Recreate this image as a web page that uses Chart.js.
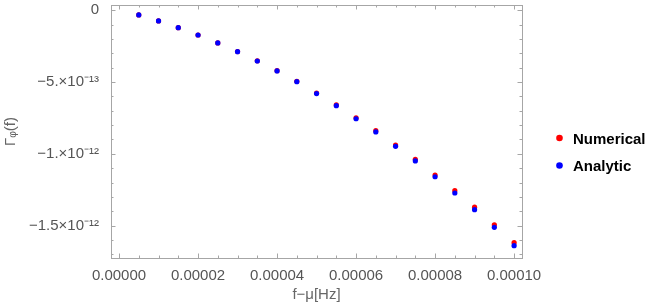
<!DOCTYPE html>
<html>
<head>
<meta charset="utf-8">
<script src="https://cdn.jsdelivr.net/npm/chart.js@4.4.0/dist/chart.umd.min.js"></script>
<style>
  html, body { margin: 0; padding: 0; background: #fff; }
</style>
</head>
<body>
<canvas id="myChart" width="654" height="306"></canvas>
<script>
// f - mu in Hz
const freqs = [0.000005, 0.00001, 0.000015, 0.00002, 0.000025, 0.00003, 0.000035, 0.00004, 0.000045, 0.00005,
  0.000055, 0.00006, 0.000065, 0.00007, 0.000075, 0.00008, 0.000085, 0.00009, 0.000095, 0.0001];
const numerical = [-0.33e-13, -0.75e-13, -1.22e-13, -1.73e-13, -2.28e-13, -2.88e-13, -3.53e-13, -4.21e-13, -4.95e-13, -5.77e-13,
  -6.60e-13, -7.49e-13, -8.39e-13, -9.39e-13, -10.38e-13, -11.48e-13, -12.57e-13, -13.72e-13, -14.94e-13, -16.19e-13];
const analytic = [-0.33e-13, -0.75e-13, -1.22e-13, -1.73e-13, -2.28e-13, -2.89e-13, -3.54e-13, -4.23e-13, -4.98e-13, -5.81e-13,
  -6.65e-13, -7.56e-13, -8.48e-13, -9.48e-13, -10.5e-13, -11.6e-13, -12.73e-13, -13.89e-13, -15.12e-13, -16.4e-13];
const seriesNames = ['Numerical', 'Analytic'];
const seriesColors = ['#ff0000', '#0000ff'];

const xTicks = [0, 0.00002, 0.00004, 0.00006, 0.00008, 0.0001];
const xTickLabels = ['0.00000', '0.00002', '0.00004', '0.00006', '0.00008', '0.00010'];
const yTicks = [0, -5e-13, -1e-12, -1.5e-12];
const yTickLabels = ['0', '\u22125.\u00d710\u207b\u00b9\u00b3', '\u22121.\u00d710\u207b\u00b9\u00b2', '\u22121.5\u00d710\u207b\u00b9\u00b2'];

const frameColor = '#a6a6a6';
const labelColor = '#555555';
const fontFamily = '"Liberation Sans", Arial, sans-serif';

function toPoints(xs, ys) {
  return xs.map((x, i) => ({ x: x, y: ys[i] }));
}

// frame with inward ticks on all four sides, Mathematica style
const framePlugin = {
  id: 'frame',
  beforeDatasetsDraw(chart) {
    const { ctx, chartArea: a, scales } = chart;
    ctx.save();
    ctx.strokeStyle = frameColor;
    ctx.lineWidth = 1;
    ctx.strokeRect(Math.round(a.left) + 0.5, Math.round(a.top) + 0.5,
      Math.round(a.right - a.left), Math.round(a.bottom - a.top));

    const xTick = (v, len) => {
      const px = Math.round(scales.x.getPixelForValue(v)) + 0.5;
      ctx.beginPath();
      ctx.moveTo(px, a.bottom); ctx.lineTo(px, a.bottom - len);
      ctx.moveTo(px, a.top); ctx.lineTo(px, a.top + len);
      ctx.stroke();
    };
    const yTick = (v, len) => {
      const py = Math.round(scales.y.getPixelForValue(v)) + 0.5;
      if (py < a.top || py > a.bottom) { return; }
      ctx.beginPath();
      ctx.moveTo(a.left, py); ctx.lineTo(a.left + len, py);
      ctx.moveTo(a.right, py); ctx.lineTo(a.right - len, py);
      ctx.stroke();
    };

    for (let i = 0; i <= 20; i++) {
      xTick(i * 0.000005, i % 4 === 0 ? 4.5 : 2.5);
    }
    for (let i = 0; i <= 17; i++) {
      yTick(-i * 1e-13, i % 5 === 0 ? 4.5 : 2.5);
    }
    ctx.restore();
  }
};

const legendPlugin = {
  id: 'sideLegend',
  afterDraw(chart) {
    const { ctx, chartArea: a } = chart;
    ctx.save();
    seriesNames.forEach((name, i) => {
      const y = 138 + i * 27.5;
      ctx.fillStyle = seriesColors[i];
      ctx.beginPath();
      ctx.arc(a.right + 37.5, y, 3.3, 0, Math.PI * 2);
      ctx.fill();
      ctx.fillStyle = '#000';
      ctx.font = 'bold 15px ' + fontFamily;
      ctx.textBaseline = 'alphabetic';
      ctx.fillText(name, a.right + 51, y + 5.5);
    });
    ctx.restore();
  }
};

const chartTarget = document.querySelector('#myChart');
const myChart = new Chart(chartTarget, {
  type: 'scatter',
  data: {
    datasets: [
      {
        label: seriesNames[0],
        data: toPoints(freqs, numerical),
        backgroundColor: seriesColors[0],
        borderWidth: 0,
        pointRadius: 2.6,
        order: 2
      },
      {
        label: seriesNames[1],
        data: toPoints(freqs, analytic),
        backgroundColor: seriesColors[1],
        borderWidth: 0,
        pointRadius: 2.6,
        order: 1
      }
    ]
  },
  options: {
    responsive: false,
    animation: false,
    layout: { padding: { top: 5, right: 132, left: 0, bottom: 0 } },
    plugins: {
      legend: { display: false },
      tooltip: { enabled: false }
    },
    scales: {
      x: {
        type: 'linear',
        min: -0.00000203,
        max: 0.000102,
        border: { display: false },
        grid: { display: false },
        afterBuildTicks: (scale) => { scale.ticks = xTicks.map((v) => ({ value: v })); },
        afterFit: (scale) => {
          scale.height = 48;
          scale.paddingLeft = 0;
          scale.paddingRight = 0;
        },
        ticks: {
          color: labelColor,
          font: { family: fontFamily, size: 15 },
          padding: 1,
          maxRotation: 0,
          autoSkip: false,
          callback: (value, index) => xTickLabels[index]
        },
        title: {
          display: true,
          text: 'f\u2212\u03bc[Hz]',
          color: '#666666',
          font: { family: fontFamily, size: 15 },
          padding: { top: 0, bottom: 2 }
        }
      },
      y: {
        type: 'linear',
        min: -1.7256e-12,
        max: 0.036e-12,
        border: { display: false },
        grid: { display: false },
        afterBuildTicks: (scale) => { scale.ticks = yTicks.map((v) => ({ value: v })); },
        afterFit: (scale) => {
          scale.width = 111;
          scale.paddingTop = 0;
          scale.paddingBottom = 0;
        },
        ticks: {
          color: labelColor,
          font: { family: fontFamily, size: 15 },
          padding: 4,
          autoSkip: false,
          callback: (value, index) => yTickLabels[index]
        },
        title: {
          display: true,
          text: '\u0393\u1d69(f)',
          color: '#666666',
          font: { family: fontFamily, size: 15 },
          padding: { top: 2, bottom: 0 }
        }
      }
    }
  },
  plugins: [framePlugin, legendPlugin]
});
</script>
</body>
</html>
